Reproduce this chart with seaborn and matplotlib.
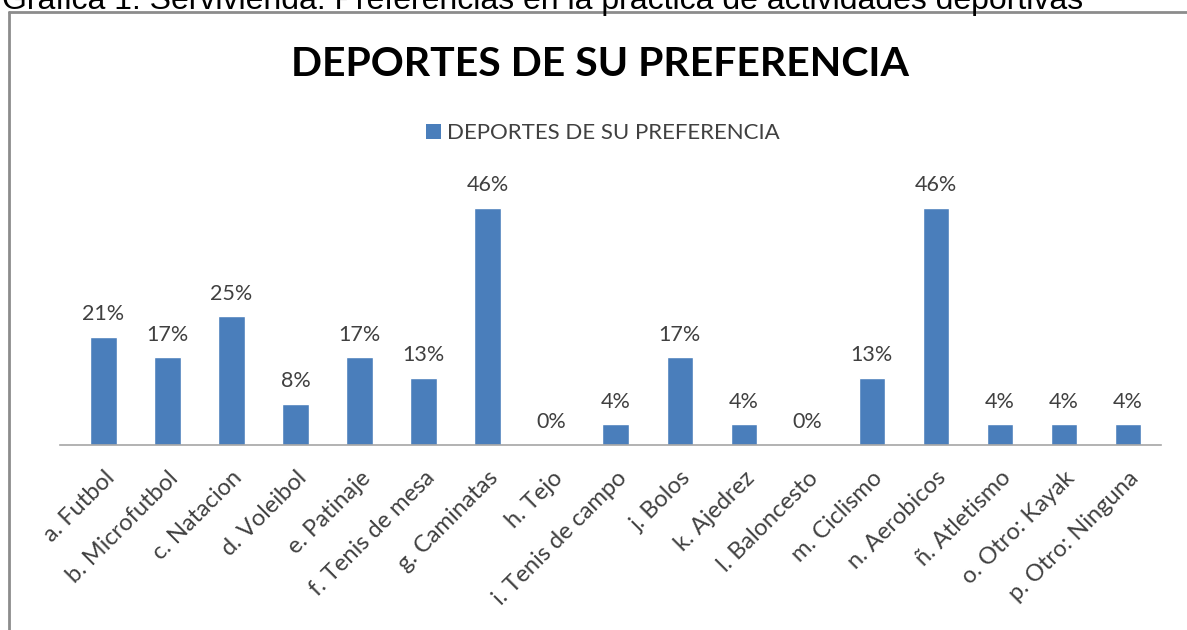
import matplotlib
matplotlib.use("Agg")
import matplotlib.pyplot as plt
import seaborn as sns
import pandas as pd
from matplotlib.lines import Line2D
from matplotlib.patches import Patch

categories = ["a. Futbol", "b. Microfutbol", "c. Natacion", "d. Voleibol", "e. Patinaje",
              "f. Tenis de mesa", "g. Caminatas", "h. Tejo", "i. Tenis de campo", "j. Bolos",
              "k. Ajedrez", "l. Baloncesto", "m. Ciclismo", "n. Aerobicos", "ñ. Atletismo",
              "o. Otro: Kayak", "p. Otro: Ninguna"]
values = [21, 17, 25, 8, 17, 13, 46, 0, 4, 17, 4, 0, 13, 46, 4, 4, 4]
series_name = "DEPORTES DE SU PREFERENCIA"
caption = "Gráfica 1. Servivienda: Preferencias en la práctica de actividades deportivas"

sns.set_theme(style="white")
plt.rcParams['font.family'] = ['Lato', 'DejaVu Sans']

df = pd.DataFrame({"cat": categories, "val": values})
blue = "#4A7EBB"
text_col = "#404040"

fig = plt.figure(figsize=(11.87, 6.3), dpi=100)
W, H = 1187, 630
ax = fig.add_axes([60 / W, 1 - 445 / H, (1161 - 60) / W, (445 - 187) / H])

sns.barplot(data=df, x="cat", y="val", color=blue, width=0.41, ax=ax, saturation=1)
ax.set_xlim(-0.68, 16.52)
ax.set_ylim(0, 50)
ax.set_xlabel("")
ax.set_ylabel("")
ax.set_yticks([])
for s in ["top", "right", "left"]:
    ax.spines[s].set_visible(False)
ax.spines["bottom"].set_color("#A6A6A6")
ax.spines["bottom"].set_linewidth(1.2)
ax.tick_params(axis="x", length=0, pad=16)
ax.set_xticks(range(len(categories)))
ax.set_xticklabels(categories, rotation=45, ha="right", rotation_mode="anchor",
                   fontsize=17, color=text_col)

for i, v in enumerate(values):
    ax.annotate(f"{v}%", (i, v), xytext=(0, 9), textcoords="offset points",
                ha="center", va="bottom", fontsize=15.5, color=text_col)

fig.text(600 / W, 1 - 64 / H, series_name, ha="center", va="center",
         fontsize=29.5, fontweight="bold", color="#000000")

leg = fig.legend(handles=[Patch(facecolor=blue, edgecolor="none")], labels=[series_name],
                 loc="center", bbox_to_anchor=(603 / W, 1 - 133 / H), frameon=False,
                 fontsize=16, handlelength=0.65, handleheight=0.65, handletextpad=0.3)
for t in leg.get_texts():
    t.set_color(text_col)

# outer frame (top and left edges visible)
fig.add_artist(Line2D([9 / W, 9 / W], [0, 1 - 12 / H], transform=fig.transFigure,
                      color="#8C8C8C", lw=2))
fig.add_artist(Line2D([9 / W, 1], [1 - 12 / H, 1 - 12 / H], transform=fig.transFigure,
                      color="#8C8C8C", lw=2))

fig.text(2 / W, 1 - 1 / H, caption, ha="left", va="center", fontsize=23,
         color="#000000", family=["Liberation Sans", "DejaVu Sans"])

fig.savefig("out.png", dpi=100)
